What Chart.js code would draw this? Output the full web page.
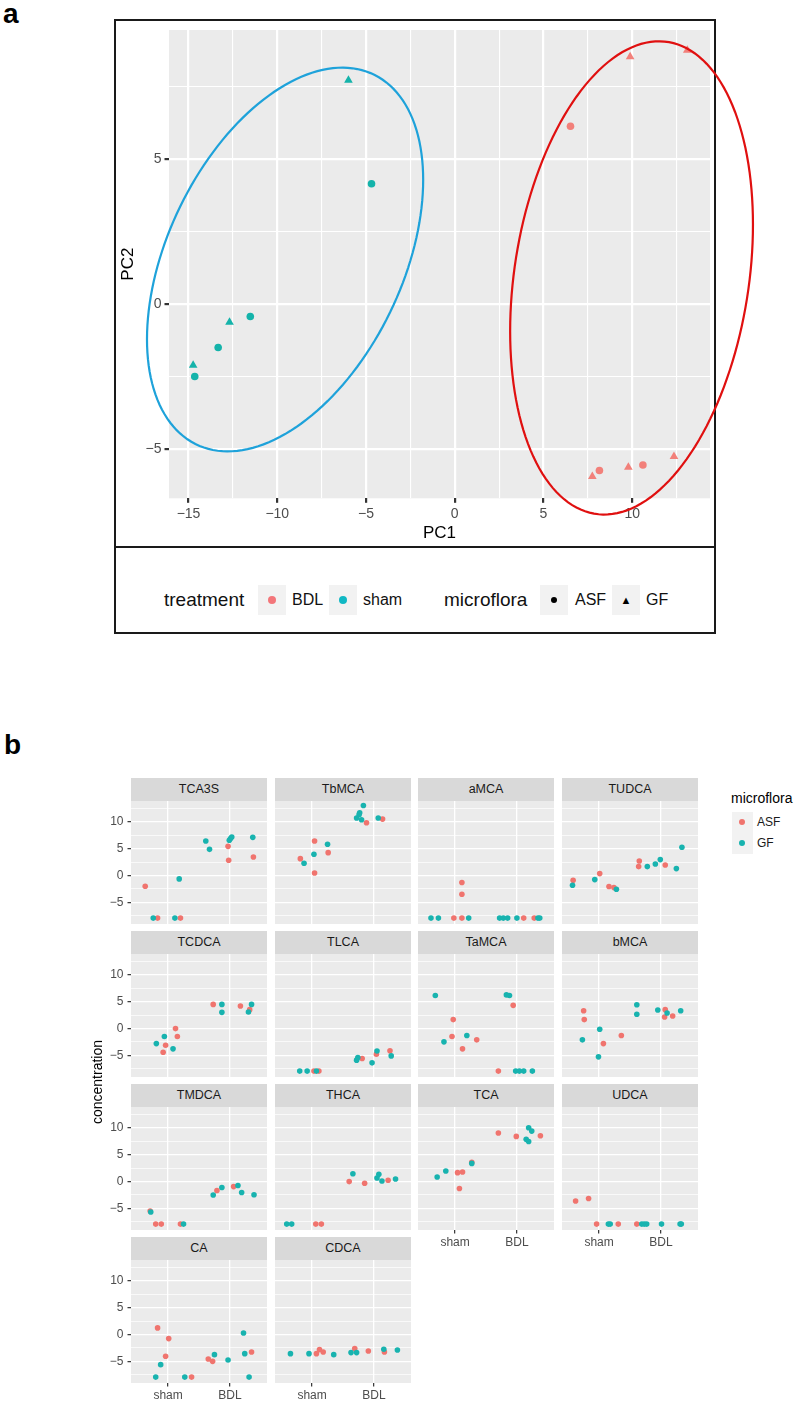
<!DOCTYPE html>
<html>
<head>
<meta charset="utf-8">
<script src="https://cdn.jsdelivr.net/npm/chart.js@4.4.0/dist/chart.umd.min.js"></script>
<style>
  body { margin:0; width:800px; height:1409px; background:#fff; position:relative; overflow:hidden;
         font-family:"Liberation Sans", Arial, Helvetica, sans-serif; }
  .abs { position:absolute; }
  .tag { font-weight:bold; font-size:28px; line-height:28px; color:#000; }
  #frameA { left:114px; top:19px; width:602px; height:615px; border:2px solid #1a1a1a; box-sizing:border-box; }
  #sepA { left:114px; top:546px; width:602px; height:0; border-top:2px solid #1a1a1a; }
  .key { background:#f2f2f2; }
  .dot { border-radius:50%; }
  .legA { font-size:16px; line-height:20px; color:#111; }
  .legTitleA { font-size:19px; line-height:24px; color:#111; }
  .strip { background:#d9d9d9; color:#1a1a1a; font-size:12.5px; text-align:center; }
  canvas { position:absolute; }
</style>
</head>
<body>
<div class="abs tag" style="left:3px; top:0px;">a</div>
<div class="abs tag" style="left:4px; top:731px;">b</div>

<div id="frameA" class="abs"></div>
<div id="sepA" class="abs"></div>
<canvas id="pca" width="665" height="527" style="left:115px; top:20px; width:665px; height:527px;"></canvas>

<!-- legend of panel a -->
<div class="abs legTitleA" style="left:164px; top:588px;">treatment</div>
<div class="abs key" style="left:258px; top:585px; width:28px; height:30px;"></div>
<div class="abs dot" style="left:268px; top:596px; width:8px; height:8px; background:#f3767a;"></div>
<div class="abs legA" style="left:292px; top:590px;">BDL</div>
<div class="abs key" style="left:329px; top:585px; width:28px; height:30px;"></div>
<div class="abs dot" style="left:339px; top:596px; width:8px; height:8px; background:#10b8c4;"></div>
<div class="abs legA" style="left:363px; top:590px;">sham</div>
<div class="abs legTitleA" style="left:444px; top:588px;">microflora</div>
<div class="abs key" style="left:540px; top:585px; width:28px; height:30px;"></div>
<div class="abs dot" style="left:551px; top:597px; width:6px; height:6px; background:#000;"></div>
<div class="abs legA" style="left:575px; top:590px;">ASF</div>
<div class="abs key" style="left:612px; top:585px; width:28px; height:30px;"></div>
<div class="abs" style="left:612px; top:590px; width:28px; text-align:center; font-size:11px; line-height:20px; color:#000;">▲</div>
<div class="abs legA" style="left:646px; top:590px;">GF</div>

<div id="facets"></div>

<div class="abs" style="left:-3px; top:1074px; width:200px; height:16px; line-height:16px; text-align:center; font-size:14px; color:#000; transform:rotate(-90deg);">concentration</div>

<!-- legend of panel b -->
<div class="abs" style="left:731px; top:789px; font-size:14px; line-height:18px; color:#000;">microflora</div>
<div class="abs key" style="left:732px; top:812px; width:21px; height:42px;"></div>
<div class="abs dot" style="left:739px; top:819px; width:6px; height:6px; background:#f0746e;"></div>
<div class="abs dot" style="left:739px; top:840px; width:6px; height:6px; background:#18b3af;"></div>
<div class="abs" style="left:757px; top:815px; font-size:12px; line-height:14px; color:#1a1a1a;">ASF</div>
<div class="abs" style="left:757px; top:836px; font-size:12px; line-height:14px; color:#1a1a1a;">GF</div>

<script>
// ---------- panel a : PCA scores ----------
const bdlAsfPC1 = [6.52, 8.15, 10.6];
const bdlAsfPC2 = [6.14, -5.73, -5.54];
const bdlGfPC1 = [9.88, 13.1, 7.75, 9.78, 12.35];
const bdlGfPC2 = [8.54, 8.76, -5.94, -5.62, -5.25];
const shamAsfPC1 = [-4.69, -11.52, -13.33, -14.65];
const shamAsfPC2 = [4.16, -0.42, -1.49, -2.49];
const shamGfPC1 = [-5.99, -12.69, -14.74];
const shamGfPC2 = [7.73, -0.62, -2.10];

// ellipse: centre x, centre y, first axis (x, y), second axis (x, y)
const shamEllipse = [-9.56, 1.545, 7.78, 2.747, 0, 6.02];
const bdlEllipse = [9.96, 0.91, 6.84, 1.84, 0, 7.95];

const pcaXTicks = [-15, -12.5, -10, -7.5, -5, -2.5, 0, 2.5, 5, 7.5, 10, 12.5];
const pcaYTicks = [-5, -2.5, 0, 2.5, 5, 7.5];

// ---------- panel b : concentrations per bile acid ----------
const facetNames = ['TCA3S', 'TbMCA', 'aMCA', 'TUDCA', 'TCDCA', 'TLCA', 'TaMCA', 'bMCA',
                    'TMDCA', 'THCA', 'TCA', 'UDCA', 'CA', 'CDCA'];
const groupLabels = ['sham', 'BDL'];   // x = 1, 2 (jittered)
const concTicks = [-7.5, -5, -2.5, 0, 2.5, 5, 7.5, 10, 12.5];

const tca3sASF = [[0.63,-1.99],[0.83,-7.95],[1.2,-7.95],[1.97,5.47],[1.98,2.86],[2.38,3.48]];
const tca3sGF  = [[0.76,-7.95],[1.11,-7.95],[1.18,-0.62],[1.61,6.47],[1.67,4.91],[1.99,6.6],[2.01,6.95],[2.03,7.2],[2.37,7.15]];
const tbmcaASF = [[0.81,3.17],[1.04,6.47],[1.04,0.5],[1.26,4.29],[1.88,9.89],[2.14,10.57]];
const tbmcaGF  = [[0.87,2.3],[1.03,3.98],[1.25,5.85],[1.83,13.1],[1.77,11.75],[1.76,11.4],[1.72,10.76],[1.8,10.45],[2.07,10.76]];
const amcaASF  = [[0.98,-7.95],[1.11,-7.95],[1.11,-1.3],[1.11,-3.48],[2.11,-7.95],[2.28,-7.95]];
const amcaGF   = [[0.61,-7.95],[0.73,-7.95],[1.22,-7.95],[1.72,-7.95],[1.78,-7.95],[1.85,-7.95],[2.0,-7.95],[2.34,-7.95],[2.37,-7.95]];
const tudcaASF = [[0.58,-0.87],[1.01,0.37],[1.16,-2.05],[1.24,-2.24],[1.65,2.74],[1.64,1.68],[2.07,1.99]];
const tudcaGF  = [[0.57,-1.8],[0.93,-0.75],[1.28,-2.55],[1.78,1.68],[1.91,2.18],[1.99,2.99],[2.25,1.31],[2.34,5.29]];
const tcdcaASF = [[0.96,-3.1],[0.92,-4.41],[1.12,0],[1.15,-1.49],[1.73,4.53],[2.17,4.22],[2.32,3.54]];
const tcdcaGF  = [[0.81,-2.8],[0.94,-1.49],[1.08,-3.79],[1.87,4.53],[1.87,3.04],[2.35,4.53],[2.3,3.1]];
const tlcaASF  = [[1.03,-7.95],[1.11,-7.95],[1.81,-5.6],[2.04,-4.78],[2.26,-4.16]];
const tlcaGF   = [[0.8,-7.95],[0.92,-7.95],[1.07,-7.95],[1.72,-5.9],[1.74,-5.4],[1.97,-6.4],[2.05,-4.2],[2.28,-5.1]];
const tamcaASF = [[0.97,1.68],[0.95,-1.49],[1.35,-2.1],[1.12,-3.79],[1.94,4.35],[1.7,-7.95]];
const tamcaGF  = [[0.68,6.2],[0.82,-2.48],[1.19,-1.3],[1.83,6.3],[1.88,6.2],[1.98,-7.95],[2.04,-7.95],[2.11,-7.95],[2.25,-7.95]];
const bmcaASF  = [[0.75,3.35],[0.76,1.68],[1.07,-2.8],[1.36,-1.3],[2.07,3.54],[2.06,2.17],[2.19,2.36]];
const bmcaGF   = [[0.73,-2.1],[1.01,-0.12],[0.99,-5.28],[1.61,4.47],[1.61,2.67],[1.95,3.48],[2.1,2.92],[2.32,3.35]];
const tmdcaASF = [[0.71,-5.5],[0.8,-7.95],[0.89,-7.95],[1.2,-7.95],[1.79,-1.67],[2.06,-0.93]];
const tmdcaGF  = [[0.72,-5.68],[1.25,-7.95],[1.73,-2.5],[1.87,-1.11],[2.13,-0.74],[2.19,-2.05],[2.39,-2.47]];
const thcaASF  = [[1.06,-7.95],[1.15,-7.95],[1.6,0],[1.85,-0.31],[2.23,0.25]];
const thcaGF   = [[0.59,-7.95],[0.67,-7.95],[1.66,1.48],[2.05,0.68],[2.08,1.36],[2.13,0.12],[2.35,0.5]];
const tcaASF   = [[1.04,1.67],[1.12,1.79],[1.07,-1.3],[1.27,3.6],[1.7,9.1],[1.99,8.45],[2.38,8.57]];
const tcaGF    = [[0.71,0.86],[0.85,1.98],[1.27,3.4],[2.19,10.07],[2.24,9.44],[2.15,7.9],[2.19,7.5]];
const udcaASF  = [[0.62,-3.64],[0.83,-3.15],[0.96,-7.95],[1.31,-7.95],[1.61,-7.95]];
const udcaGF   = [[1.15,-7.95],[1.18,-7.95],[1.69,-7.95],[1.73,-7.95],[1.77,-7.95],[2.01,-7.95],[2.31,-7.95],[2.33,-7.95]];
const caASF    = [[0.83,1.25],[1.01,-0.75],[0.96,-4.06],[1.38,-7.95],[1.65,-4.56],[1.72,-5.0],[2.35,-3.25]];
const caGF     = [[0.88,-5.62],[0.8,-7.95],[1.27,-7.95],[1.75,-3.75],[1.97,-4.75],[2.22,0.31],[2.24,-3.56],[2.31,-7.95]];
const cdcaASF  = [[1.07,-3.56],[1.12,-2.8],[1.18,-3.25],[1.69,-2.6],[1.91,-3.06],[2.17,-3.25]];
const cdcaGF   = [[0.65,-3.56],[0.95,-3.56],[1.35,-3.75],[1.63,-3.37],[1.72,-3.37],[2.16,-2.75],[2.38,-2.87]];

const facetASF = [tca3sASF, tbmcaASF, amcaASF, tudcaASF, tcdcaASF, tlcaASF, tamcaASF, bmcaASF,
                  tmdcaASF, thcaASF, tcaASF, udcaASF, caASF, cdcaASF];
const facetGF  = [tca3sGF, tbmcaGF, amcaGF, tudcaGF, tcdcaGF, tlcaGF, tamcaGF, bmcaGF,
                  tmdcaGF, thcaGF, tcaGF, udcaGF, caGF, cdcaGF];

Chart.defaults.font.family = '"Liberation Sans", Arial, Helvetica, sans-serif';

const isMajor = v => Math.abs(v % 5) < 1e-9;
const fmt = v => v < 0 ? '\u2212' + Math.abs(v) : String(v);
const zip = (xs, ys) => xs.map((x, i) => ({x: x, y: ys[i]}));
const pairs = arr => arr.map(p => ({x: p[0], y: p[1]}));

// grey panel background like ggplot
const panelBg = {
    id: 'panelBg',
    beforeDraw(chart) {
        const {ctx, chartArea: a} = chart;
        ctx.save();
        ctx.fillStyle = '#ebebeb';
        ctx.fillRect(a.left, a.top, a.right - a.left, a.bottom - a.top);
        ctx.restore();
    }
};

const ellipsePlugin = {
    id: 'ellipses',
    afterDatasetsDraw(chart) {
        const {ctx} = chart;
        const xs = chart.scales.x, ys = chart.scales.y;
        ctx.save();
        [[shamEllipse, '#1ea2da'], [bdlEllipse, '#e01010']].forEach(([e, color]) => {
            ctx.beginPath();
            for (let i = 0; i <= 160; i++) {
                const t = i / 160 * Math.PI * 2;
                const px = xs.getPixelForValue(e[0] + e[2] * Math.cos(t) + e[4] * Math.sin(t));
                const py = ys.getPixelForValue(e[1] + e[3] * Math.cos(t) + e[5] * Math.sin(t));
                if (i === 0) ctx.moveTo(px, py); else ctx.lineTo(px, py);
            }
            ctx.closePath();
            ctx.strokeStyle = color;
            ctx.lineWidth = 2.2;
            ctx.stroke();
        });
        ctx.restore();
    }
};

function gridOpts(majorW, minorW, tickLen, showTicks) {
    return {
        color: '#ffffff',
        lineWidth: c => (c.tick && isMajor(c.tick.value)) ? majorW : minorW,
        drawTicks: showTicks,
        tickLength: tickLen,
        tickColor: c => (c.tick && isMajor(c.tick.value)) ? '#333333' : 'rgba(0,0,0,0)',
        tickWidth: majorW
    };
}

// fixed axis size and no extra label overhang padding
function fixSize(s, size) {
    if (s.isHorizontal()) s.height = size; else s.width = size;
    s.paddingTop = 0; s.paddingBottom = 0; s.paddingLeft = 0; s.paddingRight = 0;
}

const RED_A = 'rgba(242,118,112,0.92)';
const TEAL_A = '#14b3aa';

new Chart(document.getElementById('pca'), {
    type: 'scatter',
    data: {
        datasets: [
            {data: zip(bdlAsfPC1, bdlAsfPC2), pointStyle: 'circle', pointRadius: 3.8, backgroundColor: RED_A, borderWidth: 0},
            {data: zip(bdlGfPC1, bdlGfPC2), pointStyle: 'triangle', pointRadius: 5, backgroundColor: RED_A, borderWidth: 0},
            {data: zip(shamAsfPC1, shamAsfPC2), pointStyle: 'circle', pointRadius: 3.8, backgroundColor: TEAL_A, borderWidth: 0},
            {data: zip(shamGfPC1, shamGfPC2), pointStyle: 'triangle', pointRadius: 5, backgroundColor: TEAL_A, borderWidth: 0}
        ]
    },
    options: {
        animation: false,
        responsive: false,
        devicePixelRatio: 1,
        events: [],
        layout: {autoPadding: false, padding: {top: 10, right: 70, bottom: 0, left: 0}},
        plugins: {legend: {display: false}, tooltip: {enabled: false}},
        scales: {
            x: {
                type: 'linear', min: -16.1, max: 14.38,
                afterBuildTicks: s => { s.ticks = pcaXTicks.map(v => ({value: v})); },
                afterFit: s => fixSize(s, 48.7),
                ticks: {callback: v => isMajor(v) ? fmt(v) : '', font: {size: 14}, color: '#4d4d4d',
                        padding: 3, autoSkip: false, maxRotation: 0},
                grid: gridOpts(2.2, 1.1, 4.5, true),
                border: {display: false},
                title: {display: true, text: 'PC1', font: {size: 17}, color: '#000', padding: {top: 0, bottom: 3}}
            },
            y: {
                type: 'linear', min: -6.69, max: 9.46,
                afterBuildTicks: s => { s.ticks = pcaYTicks.map(v => ({value: v})); },
                afterFit: s => fixSize(s, 54),
                ticks: {callback: v => isMajor(v) ? fmt(v) : '', font: {size: 14}, color: '#4d4d4d',
                        padding: 3, autoSkip: false},
                grid: gridOpts(2.2, 1.1, 4.5, true),
                border: {display: false},
                title: {display: true, text: 'PC2', font: {size: 17}, color: '#000', padding: {top: 3, bottom: 0}}
            }
        }
    },
    plugins: [panelBg, ellipsePlugin]
});

// ---------- facets ----------
const colLeft = [131, 275, 418, 562];
const rowTop = [778, 931, 1084, 1237];
const stripH = 23, panelW = 136, panelH = 123, yAxisW = 30, xAxisH = 24;
const holder = document.getElementById('facets');

facetNames.forEach((name, i) => {
    const col = i % 4, row = Math.floor(i / 4);
    const leftCol = col === 0;
    const bottom = i >= 10;

    const strip = document.createElement('div');
    strip.className = 'abs strip';
    strip.style.cssText = `left:${colLeft[col]}px; top:${rowTop[row]}px; width:${panelW}px; height:${stripH}px; line-height:${stripH}px;`;
    strip.textContent = name;
    holder.appendChild(strip);

    const cv = document.createElement('canvas');
    const w = panelW + (leftCol ? yAxisW : 0);
    const h = panelH + (bottom ? xAxisH : 0);
    cv.width = w; cv.height = h;
    cv.style.cssText = `left:${colLeft[col] - (leftCol ? yAxisW : 0)}px; top:${rowTop[row] + stripH}px; width:${w}px; height:${h}px;`;
    holder.appendChild(cv);

    new Chart(cv, {
        type: 'scatter',
        data: {
            datasets: [
                {label: 'GF', data: pairs(facetGF[i]), pointRadius: 2.8, backgroundColor: '#18b3af', borderWidth: 0},
                {label: 'ASF', data: pairs(facetASF[i]), pointRadius: 2.8, backgroundColor: '#f0746e', borderWidth: 0}
            ]
        },
        options: {
            animation: false,
            responsive: false,
            devicePixelRatio: 1,
            events: [],
            layout: {autoPadding: false, padding: 0},
            plugins: {legend: {display: false}, tooltip: {enabled: false}},
            scales: {
                x: {
                    type: 'linear', min: 0.4, max: 2.6,
                    afterBuildTicks: s => { s.ticks = groupLabels.map((g, k) => ({value: k + 1})); },
                    afterFit: s => fixSize(s, bottom ? xAxisH : 0),
                    ticks: {display: bottom, callback: v => groupLabels[Math.round(v) - 1], font: {size: 12},
                            color: '#4d4d4d', padding: 2, autoSkip: false, maxRotation: 0},
                    grid: {color: '#ffffff', lineWidth: 1.3, drawTicks: bottom, tickLength: 3.5,
                           tickColor: '#333333', tickWidth: 1.2},
                    border: {display: false}
                },
                y: {
                    type: 'linear', min: -9.05, max: 13.95,
                    afterBuildTicks: s => { s.ticks = concTicks.map(v => ({value: v})); },
                    afterFit: s => fixSize(s, leftCol ? yAxisW : 0),
                    ticks: {display: leftCol, callback: v => isMajor(v) ? fmt(v) : '', font: {size: 12},
                            color: '#4d4d4d', padding: 4, autoSkip: false},
                    grid: Object.assign(gridOpts(1.3, 0.7, 3.5, leftCol), {tickWidth: 1.2}),
                    border: {display: false}
                }
            }
        },
        plugins: [panelBg]
    });
});
</script>
</body>
</html>
